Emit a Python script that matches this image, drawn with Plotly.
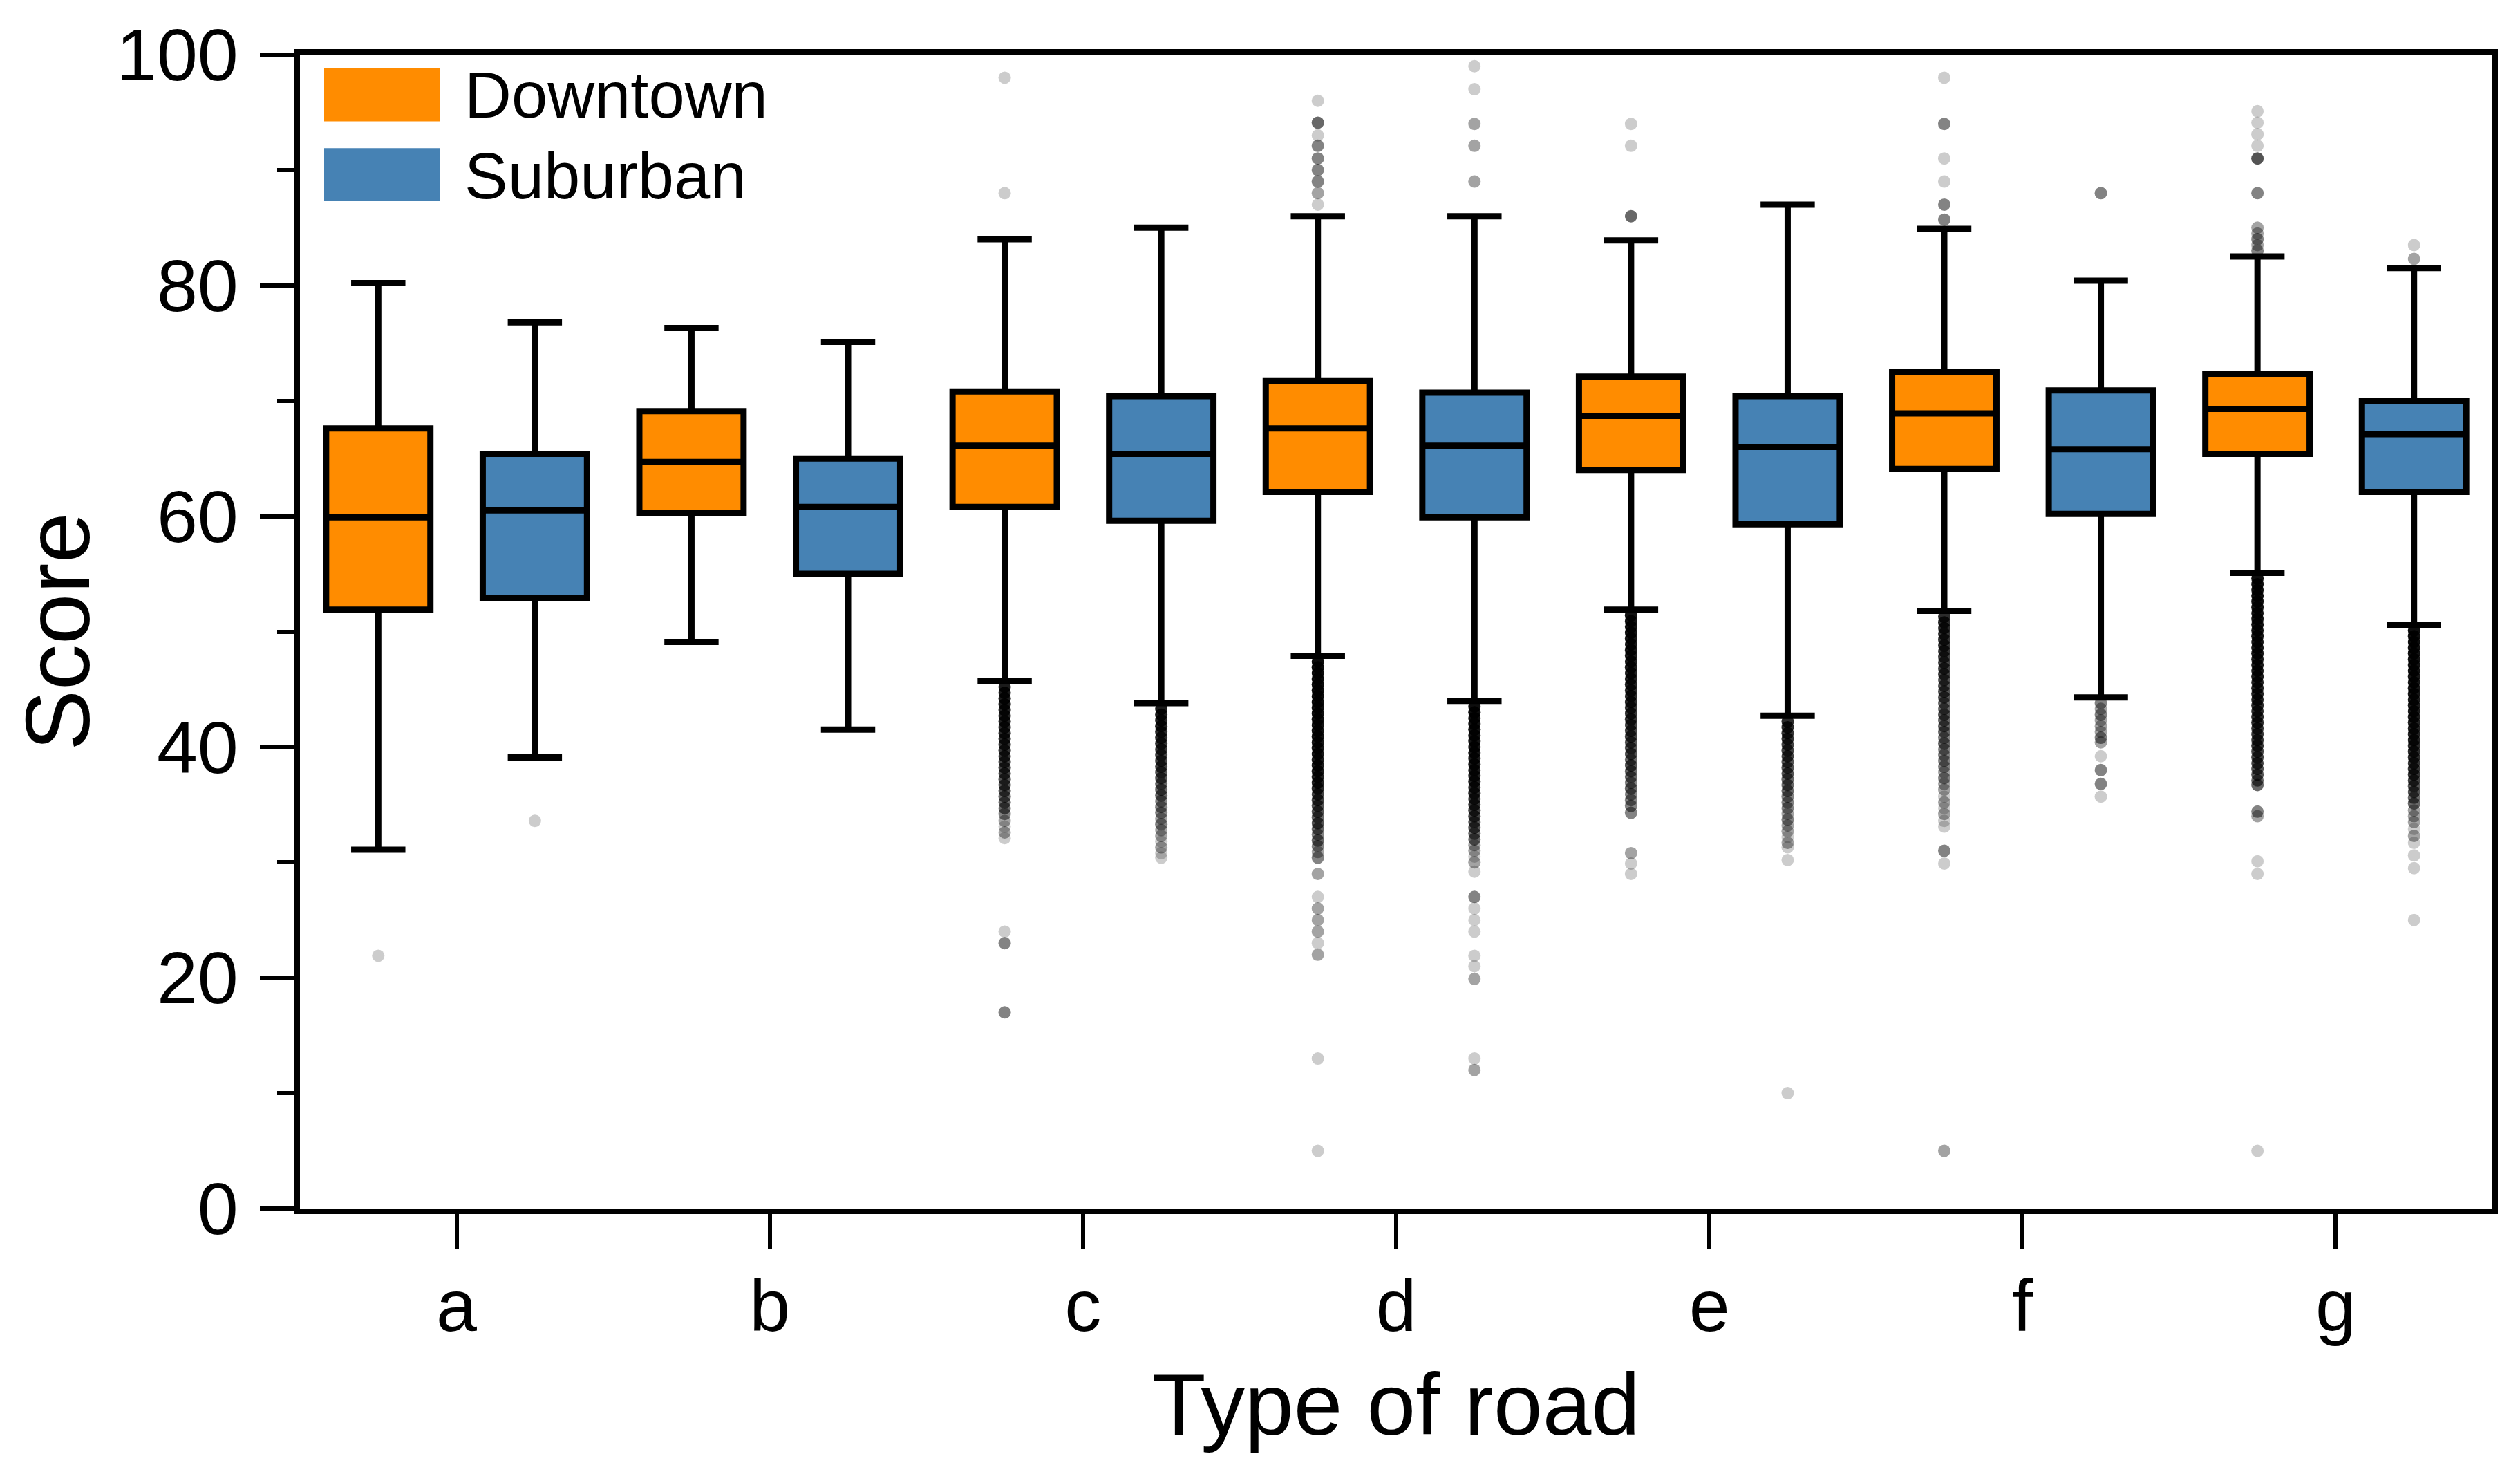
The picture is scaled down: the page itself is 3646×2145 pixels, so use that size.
import plotly.graph_objects as go

# ---------------- data ----------------
categories = ["a", "b", "c", "d", "e", "f", "g"]

dt_upper = [80.2, 76.3, 84.0, 86.0, 83.9, 84.9, 82.5]
dt_q3 = [67.6, 69.1, 70.8, 71.7, 72.1, 72.5, 72.3]
dt_med = [59.9, 64.7, 66.1, 67.6, 68.7, 68.9, 69.3]
dt_q1 = [51.9, 60.3, 60.8, 62.1, 64.0, 64.1, 65.4]
dt_lower = [31.1, 49.1, 45.7, 47.9, 51.9, 51.8, 55.1]

sb_upper = [76.8, 75.1, 85.0, 86.0, 87.0, 80.4, 81.5]
sb_q3 = [65.4, 65.0, 70.4, 70.7, 70.4, 70.9, 70.0]
sb_med = [60.5, 60.8, 65.4, 66.1, 66.0, 65.8, 67.1]
sb_q1 = [52.9, 55.0, 59.6, 59.9, 59.3, 60.2, 62.1]
sb_lower = [39.1, 41.5, 43.8, 44.0, 42.7, 44.3, 50.6]

# outliers: (score, number of overlapping points)
out_a_dt = [(21.9, 1)]
out_a_sb = [(33.6, 1)]
out_b_dt = []
out_b_sb = []
out_c_dt = [(98.0, 1), (88.0, 1),
            (45.2, 10), (44.7, 10), (44.2, 10), (43.7, 10), (43.2, 9), (42.7, 9), (42.2, 9),
            (41.7, 8), (41.2, 8), (40.7, 8), (40.2, 7), (39.7, 7), (39.2, 7), (38.7, 6),
            (38.2, 6), (37.7, 6), (37.2, 5), (36.7, 5), (36.2, 5), (35.7, 4), (35.2, 4),
            (34.7, 4), (34.2, 3), (33.6, 2), (33.1, 1), (32.6, 2), (32.1, 1),
            (24.0, 1), (23.0, 3), (17.0, 3)]
out_c_sb = [(43.3, 10), (42.8, 10), (42.3, 9), (41.8, 9), (41.3, 8), (40.8, 8), (40.3, 7),
            (39.8, 7), (39.3, 6), (38.8, 6), (38.3, 6), (37.8, 5), (37.3, 5), (36.8, 4),
            (36.3, 4), (35.8, 4), (35.3, 3), (34.8, 3), (34.3, 3), (33.8, 2), (33.3, 3),
            (32.8, 2), (32.3, 2), (31.8, 1), (31.3, 2), (30.8, 1), (30.4, 1)]
out_d_dt = [(96.0, 1), (94.1, 4), (93.0, 1), (92.1, 3), (91.0, 3), (90.0, 3), (89.0, 3),
            (88.0, 2), (87.0, 1),
            (47.4, 14), (46.9, 14), (46.4, 14), (45.9, 14), (45.4, 14), (44.9, 14), (44.4, 14),
            (43.9, 14), (43.4, 13), (42.9, 13), (42.4, 13), (41.9, 12), (41.4, 12), (40.9, 12),
            (40.4, 11), (39.9, 11), (39.4, 11), (38.9, 10), (38.4, 10), (37.9, 10), (37.4, 9),
            (36.9, 9), (36.4, 8), (35.9, 6), (35.4, 6), (34.9, 5), (34.4, 5), (33.9, 4),
            (33.4, 5), (32.9, 4), (32.4, 3), (31.9, 4), (31.4, 3), (30.9, 2), (30.4, 3),
            (29.0, 2), (27.0, 1), (26.0, 2), (25.0, 2), (24.0, 2), (23.0, 1), (22.0, 2),
            (13.0, 1), (5.0, 1)]
out_d_sb = [(99.0, 1), (97.0, 1), (94.0, 2), (92.1, 2), (89.0, 2),
            (43.5, 13), (43.0, 13), (42.5, 13), (42.0, 12), (41.5, 12), (41.0, 12), (40.5, 11),
            (40.0, 11), (39.5, 11), (39.0, 10), (38.5, 10), (38.0, 10), (37.5, 9), (37.0, 9),
            (36.5, 8), (36.0, 8), (35.5, 7), (35.0, 7), (34.5, 6), (34.0, 6), (33.5, 5),
            (33.0, 5), (32.5, 4), (32.0, 4), (31.5, 2), (31.0, 2), (30.5, 1), (30.0, 2),
            (29.2, 1), (27.0, 3), (26.0, 1), (25.0, 1), (24.0, 1), (21.9, 1), (21.0, 1),
            (19.9, 2), (13.0, 1), (12.0, 2)]
out_e_dt = [(94.0, 1), (92.1, 1), (86.0, 4),
            (51.4, 12), (50.9, 12), (50.4, 12), (49.9, 12), (49.4, 11), (48.9, 11), (48.4, 11),
            (47.9, 10), (47.4, 10), (46.9, 10), (46.4, 9), (45.9, 9), (45.4, 9), (44.9, 8),
            (44.4, 8), (43.9, 8), (43.4, 7), (42.9, 7), (42.4, 7), (41.9, 6), (41.4, 6),
            (40.9, 6), (40.4, 5), (39.9, 5), (39.4, 5), (38.9, 4), (38.4, 5), (37.9, 4),
            (37.4, 4), (36.9, 3), (36.4, 4), (35.9, 3), (35.4, 3), (34.9, 3), (34.3, 3),
            (30.8, 2), (29.9, 1), (29.0, 1)]
out_e_sb = [(42.2, 8), (41.7, 8), (41.2, 7), (40.7, 7), (40.2, 6), (39.7, 6), (39.2, 6),
            (38.7, 5), (38.2, 5), (37.7, 5), (37.2, 4), (36.7, 4), (36.2, 4), (35.7, 3),
            (35.2, 3), (34.7, 3), (34.2, 2), (33.7, 3), (33.2, 2), (32.7, 2), (32.2, 1),
            (31.7, 2), (31.3, 1), (30.2, 1), (10.0, 1)]
out_f_dt = [(98.0, 1), (94.0, 3), (91.0, 1), (89.0, 1), (87.0, 3), (85.7, 3),
            (51.3, 8), (50.8, 8), (50.3, 8), (49.8, 7), (49.3, 7), (48.8, 7), (48.3, 7),
            (47.8, 6), (47.3, 6), (46.8, 6), (46.3, 6), (45.8, 5), (45.3, 5), (44.8, 5),
            (44.3, 5), (43.8, 4), (43.3, 4), (42.8, 5), (42.3, 4), (41.8, 4), (41.3, 4),
            (40.8, 3), (40.3, 4), (39.8, 3), (39.3, 3), (38.8, 3), (38.3, 3), (37.8, 2),
            (37.3, 3), (36.8, 2), (36.3, 2), (35.7, 1), (35.2, 2), (34.7, 1), (34.2, 2),
            (33.6, 1), (33.1, 1), (31.0, 3), (29.9, 1), (5.0, 2)]
out_f_sb = [(88.0, 3), (43.8, 3), (43.3, 2), (42.8, 3), (42.3, 2), (41.8, 2), (41.3, 2),
            (40.8, 3), (40.4, 2), (39.2, 1), (38.0, 3), (36.8, 3), (35.7, 1)]
out_g_dt = [(95.1, 1), (94.1, 1), (93.1, 1), (92.1, 1), (91.0, 5), (88.0, 3), (85.0, 2),
            (84.5, 2), (84.0, 3), (83.5, 2), (83.0, 3),
            (54.6, 13), (54.1, 13), (53.6, 13), (53.1, 13), (52.6, 13), (52.1, 12), (51.6, 12),
            (51.1, 12), (50.6, 12), (50.1, 12), (49.6, 11), (49.1, 11), (48.6, 11), (48.1, 11),
            (47.6, 10), (47.1, 10), (46.6, 10), (46.1, 10), (45.6, 9), (45.1, 9), (44.6, 9),
            (44.1, 9), (43.6, 8), (43.1, 8), (42.6, 8), (42.1, 8), (41.6, 7), (41.1, 7),
            (40.6, 7), (40.1, 7), (39.6, 6), (39.1, 6), (38.6, 6), (38.1, 5), (37.6, 5),
            (37.1, 4), (36.7, 4), (34.4, 3), (34.0, 2), (30.1, 1), (29.0, 1), (5.0, 1)]
out_g_sb = [(83.5, 1), (82.3, 2),
            (50.1, 13), (49.6, 13), (49.1, 13), (48.6, 13), (48.1, 12), (47.6, 12), (47.1, 12),
            (46.6, 12), (46.1, 11), (45.6, 11), (45.1, 11), (44.6, 11), (44.1, 10), (43.6, 10),
            (43.1, 10), (42.6, 10), (42.1, 9), (41.6, 9), (41.1, 9), (40.6, 9), (40.1, 8),
            (39.6, 8), (39.1, 8), (38.6, 7), (38.1, 7), (37.6, 7), (37.1, 6), (36.6, 5),
            (36.1, 5), (35.6, 4), (35.1, 4), (34.5, 2), (34.0, 2), (33.5, 2), (32.9, 1),
            (32.3, 2), (31.7, 1), (30.6, 1), (29.5, 1), (25.0, 1)]

dt_outliers = [out_a_dt, out_b_dt, out_c_dt, out_d_dt, out_e_dt, out_f_dt, out_g_dt]
sb_outliers = [out_a_sb, out_b_sb, out_c_sb, out_d_sb, out_e_sb, out_f_sb, out_g_sb]

# ---------------- styling ----------------
ORANGE = "#FF8C00"
BLUE = "#4682B4"
FONT = "Liberation Sans, Arial, sans-serif"
OFFSET = 0.25
BOX_W = 0.333
BASE_ALPHA = 0.2

idx = list(range(len(categories)))
x_dt = [i - OFFSET for i in idx]
x_sb = [i + OFFSET for i in idx]

fig = go.Figure()

# outlier points (semi-transparent, overlapping)
for xs, outs in ((x_dt, dt_outliers), (x_sb, sb_outliers)):
    px, py, op = [], [], []
    for xpos, lst in zip(xs, outs):
        for val, cnt in lst:
            px.append(xpos)
            py.append(val)
            op.append(1 - (1 - BASE_ALPHA) ** cnt)
    fig.add_trace(go.Scatter(
        x=px, y=py, mode="markers",
        marker=dict(size=18, color="black", opacity=op, line=dict(width=0)),
        showlegend=False, hoverinfo="y",
    ))

for name, xs, q1, med, q3, lo, hi, col in (
        ("Downtown", x_dt, dt_q1, dt_med, dt_q3, dt_lower, dt_upper, ORANGE),
        ("Suburban", x_sb, sb_q1, sb_med, sb_q3, sb_lower, sb_upper, BLUE)):
    fig.add_trace(go.Box(
        name=name, x=xs, q1=q1, median=med, q3=q3,
        lowerfence=lo, upperfence=hi,
        width=BOX_W, whiskerwidth=0.52,
        fillcolor=col, line=dict(color="black", width=9),
        boxpoints=False, showlegend=False,
    ))

# page body has an 8px margin; figure is sized/placed to compensate
BODY = 8
W, H = 3630, 2129
L, R, T, B = 426, 32, 63, 389
pw, ph = W - L - R, H - T - B


def pxx(v):  # v: pixel x in the 3646x2145 window
    return (v - BODY - L) / pw


def pxy(v):  # v: pixel y in the 3646x2145 window
    return (H - B - (v - BODY)) / ph


# manual legend (large colour swatches)
shapes = [
    dict(type="rect", xref="paper", yref="paper", x0=pxx(469), x1=pxx(637),
         y0=pxy(168), y1=pxy(91), fillcolor=ORANGE, line=dict(width=0)),
    dict(type="rect", xref="paper", yref="paper", x0=pxx(469), x1=pxx(637),
         y0=pxy(284), y1=pxy(207), fillcolor=BLUE, line=dict(width=0)),
]
annotations = [
    dict(text="Downtown", xref="paper", yref="paper", x=pxx(670), y=pxy(130),
         xanchor="left", yanchor="middle", showarrow=False,
         font=dict(family=FONT, size=94, color="black")),
    dict(text="Suburban", xref="paper", yref="paper", x=pxx(670), y=pxy(247),
         xanchor="left", yanchor="middle", showarrow=False,
         font=dict(family=FONT, size=94, color="black")),
    dict(text="Score", xref="paper", yref="paper", x=pxx(BODY), y=0.5,
         xanchor="left", yanchor="middle", textangle=-90, showarrow=False,
         font=dict(family=FONT, size=132, color="black")),
    dict(text="Type of road", xref="paper", yref="paper", x=0.5, y=pxy(2032),
         xanchor="center", yanchor="middle", showarrow=False,
         font=dict(family=FONT, size=127, color="black")),
]

fig.update_layout(
    width=W, height=H,
    margin=dict(l=L, r=R, t=T, b=B, pad=0),
    paper_bgcolor="white", plot_bgcolor="white",
    shapes=shapes, annotations=annotations,
    font=dict(family=FONT, color="black"),
    showlegend=False,
)
fig.update_xaxes(
    range=[-0.5, 6.5], tickmode="array", tickvals=idx, ticktext=categories,
    ticks="outside", ticklen=50, tickwidth=6, tickcolor="black",
    showline=True, linewidth=8, linecolor="black", mirror=True,
    showgrid=False, zeroline=False,
    tickfont=dict(family=FONT, size=106, color="black"),
    ticklabelstandoff=-8,
)
fig.update_yaxes(
    range=[0, 100], tickmode="linear", tick0=0, dtick=20,
    ticks="outside", ticklen=50, tickwidth=6, tickcolor="black",
    minor=dict(ticks="outside", ticklen=25, tickwidth=6, tickcolor="black", dtick=10),
    showline=True, linewidth=8, linecolor="black", mirror=True,
    showgrid=False, zeroline=False,
    tickfont=dict(family=FONT, size=106, color="black"),
    ticklabelstandoff=10,
)

fig.write_html("out.html")
